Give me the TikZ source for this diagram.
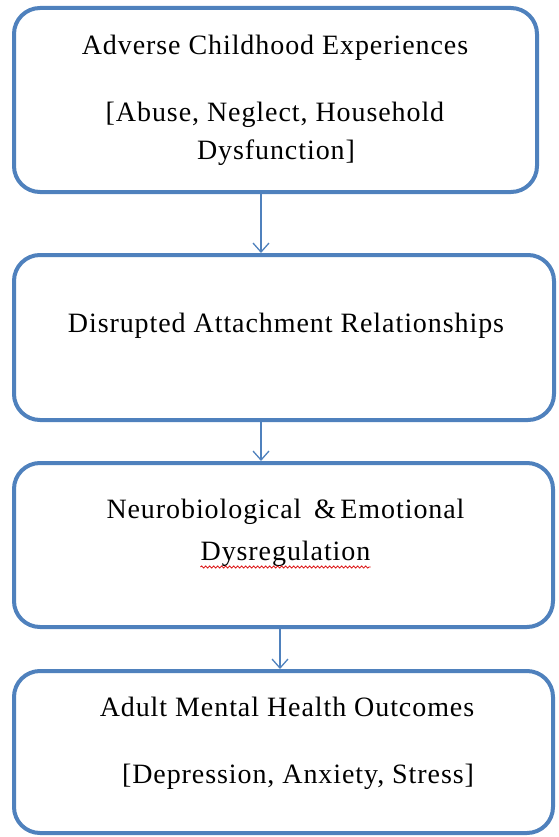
\documentclass[tikz,border=0pt]{standalone}
\usepackage{fontspec}
\setmainfont{Liberation Serif}[LetterSpace=3.3]
\usetikzlibrary{arrows.meta,decorations.pathmorphing,calc}
\definecolor{boxblue}{RGB}{79,129,189}
\begin{document}
\begin{tikzpicture}[x=1pt,y=-1pt,
  box/.style={draw=boxblue,line width=4pt,rounded corners=26pt,inner sep=0pt,fill=white},
  txt/.style={anchor=base,inner sep=0pt,font=\fontsize{28}{32}\selectfont},
  conn/.style={draw=boxblue,line width=1.3pt,-{Straight Barb[length=9pt,width=16pt,line width=1.3pt]}},
  wavy/.style={draw=red!85!black,line width=0.7pt,decorate,decoration={snake,amplitude=1.1pt,segment length=4pt}}]
\useasboundingbox (0,0) rectangle (558,837);
% boxes
\node[box,minimum width=523pt,minimum height=184pt] (b1) at (275.5,100) {};
\node[box,minimum width=540pt,minimum height=165pt] (b2) at (284,337.5) {};
\node[box,minimum width=539pt,minimum height=164pt] (b3) at (283.5,545) {};
\node[box,minimum width=539pt,minimum height=162pt] (b4) at (283.5,752) {};
% texts
\node[txt] (t11) at (275,55) {Adverse Childhood Experiences};
\node[txt] (t12) at (275,122) {[Abuse, Neglect, Household};
\node[txt] (t13) at (276,160) {Dysfunction]};
\node[txt] (t21) at (286,332) {Disrupted Attachment Relationships};
\node[txt] (t31) at (285.5,518) {Neurobiological \,\&\,Emotional};
\node[txt] (t32) at (285.5,560) {Dysregulation};
\node[txt] (t41) at (287,716) {Adult Mental Health Outcomes};
\node[txt] (t42) at (298,783) {[Depression, Anxiety, Stress]};
% spell-check underline
\draw[wavy] ($(t32.base west)+(0,7)$) -- ($(t32.base east)+(0,7)$);
% connectors
\coordinate (a1) at (261,192);
\coordinate (a2) at (261,420);
\coordinate (a3) at (280,627);
\draw[conn] (a1) -- (a1 |- b2.north);
\draw[conn] (a2) -- (a2 |- b3.north);
\draw[conn] (a3) -- (a3 |- b4.north);
\end{tikzpicture}
\end{document}
